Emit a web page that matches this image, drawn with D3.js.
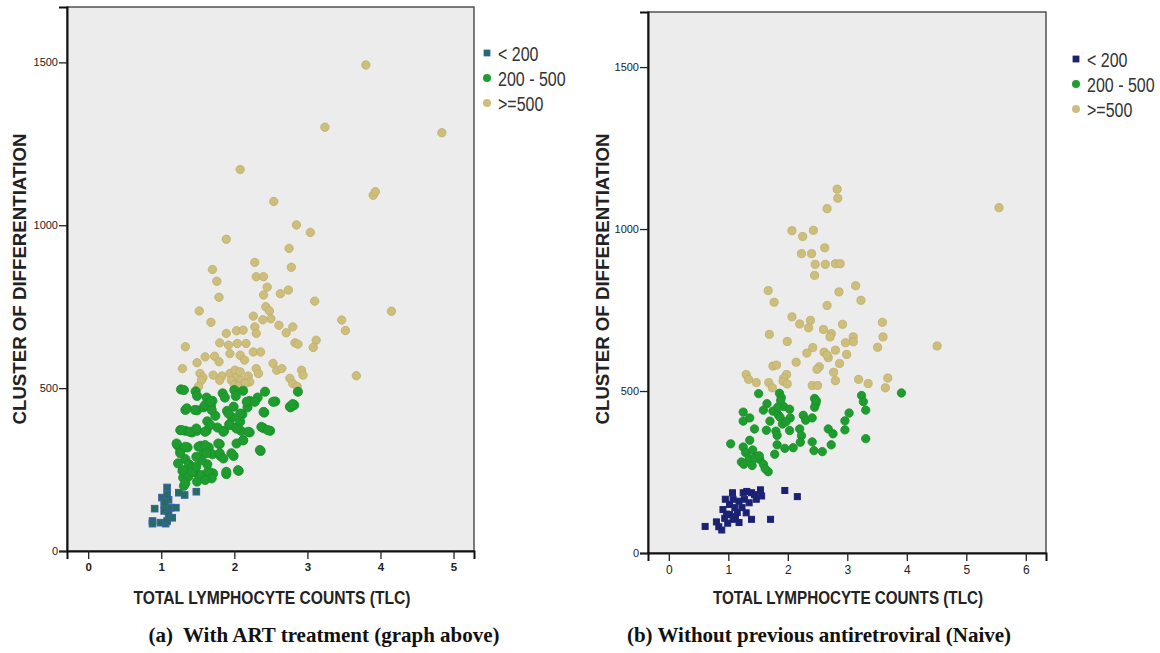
<!DOCTYPE html>
<html>
<head>
<meta charset="utf-8">
<script src="https://cdn.jsdelivr.net/npm/d3@7"></script>
<style>
  body { margin: 0; background: #fff; }
</style>
</head>
<body>
<script>
// CD4 vs TLC, panel (a) with ART, panel (b) naive
// each point is [tlc, cd4]
let artLow = [[1.08,195],[1.01,164],[1.06,159],[1.10,157],[1.24,179],[1.32,172],[1.48,182],[0.91,130],[1.13,133],[1.20,133],
  [1.04,123],[1.10,113],[0.88,92],[0.88,84],[0.99,87],[1.06,84],[1.08,92],[1.15,102],[1.04,143],[1.08,174],[1.05,150]];
let artMid = [[1.27,496],[1.31,494],[1.47,490],[1.49,476],[1.62,471],[1.70,461],[1.84,484],[1.87,471],[2.00,494],[2.02,476],
  [2.12,492],[2.21,461],[2.32,471],[2.42,489],[2.56,459],[2.87,489],[2.77,441],[2.82,448],[1.33,433],[1.49,432],
  [1.58,441],[1.68,446],[1.74,415],[1.90,430],[1.97,410],[2.11,420],[2.18,441],[2.41,425],[1.26,371],[1.33,369],
  [1.42,364],[1.49,369],[1.63,398],[1.62,369],[1.77,379],[1.86,369],[1.93,389],[2.02,379],[2.09,369],[2.12,340],
  [2.21,364],[2.40,377],[2.49,369],[2.36,307],[1.22,325],[1.26,307],[1.36,318],[1.54,323],[1.58,302],[1.65,318],
  [1.70,297],[1.80,328],[1.81,292],[1.99,292],[1.33,282],[1.38,266],[1.42,256],[1.47,241],[1.63,266],[1.67,241],
  [1.29,246],[1.30,225],[1.53,230],[1.71,238],[1.89,236],[2.06,246],[1.31,200],[1.49,213],
  [1.35,438],[1.46,433],[1.60,448],[1.69,433],[1.67,458],[1.92,422],[1.99,443],[2.08,422],[2.17,458],[2.28,458],
  [2.40,427],[2.53,458],[2.76,443],[2.80,451],[1.28,371],[1.39,366],[1.48,376],[1.60,366],[1.67,387],[1.85,366],
  [1.94,387],[2.03,376],[2.08,397],[2.19,366],[2.37,381],[2.46,371],[1.21,330],[1.33,320],[1.26,300],[1.51,320],
  [1.60,325],[1.62,300],[1.55,279],[1.48,289],[1.78,330],[1.80,300],[1.85,284],[1.96,300],[2.03,330],[2.12,340],
  [2.35,310],[1.23,269],[1.30,248],[1.37,228],[1.33,208],[1.42,243],[1.48,259],[1.55,233],[1.64,243],[1.69,223],
  [1.60,218],[1.89,243],[2.05,248]];
let artHigh = [[3.80,1492],[3.24,1301],[4.84,1284],[2.08,1171],[3.90,1092],[3.93,1103],[2.54,1073],[2.85,1001],[3.04,978],[1.89,957],
  [2.75,929],[2.28,886],[2.78,871],[1.70,864],[2.30,842],[2.40,842],[1.76,828],[2.45,810],[2.74,801],[2.63,790],
  [2.40,786],[1.79,779],[3.10,767],[1.52,737],[4.15,736],[2.43,750],[2.48,737],[2.26,721],[2.39,710],[2.50,713],
  [1.68,702],[3.47,709],[3.52,677],[3.67,538],[2.28,688],[2.30,668],[2.61,693],[2.71,670],[2.80,688],[1.89,668],
  [2.03,676],[2.12,678],[1.33,627],[1.80,639],[1.92,632],[2.04,637],[2.16,637],[1.94,606],[2.08,601],[2.14,586],
  [2.26,611],[2.36,611],[2.83,639],[2.87,635],[3.12,647],[3.08,625],[1.49,578],[1.60,596],[1.73,598],[1.79,581],
  [1.29,560],[1.53,545],[1.57,533],[1.55,524],[1.71,540],[1.83,537],[1.80,524],[1.94,545],[2.01,555],[2.03,533],
  [1.96,524],[2.08,550],[2.09,524],[2.19,537],[2.21,519],[2.30,560],[2.33,545],[2.53,576],[2.58,555],[2.65,560],
  [2.76,530],[2.80,514],[2.92,555],[2.94,540],[1.51,505],[2.15,514],[2.00,510],[2.05,505],[2.86,505]];

let naiveLow = [[0.61,82],[0.80,96],[0.84,81],[0.89,71],[0.94,107],[0.99,92],[0.91,134],[0.95,166],[1.07,186],[1.08,166],
  [1.11,140],[1.02,119],[1.08,104],[1.18,94],[1.25,186],[1.27,166],[1.23,140],[1.30,124],[1.39,186],[1.35,155],
  [1.47,166],[1.54,195],[1.56,176],[1.39,104],[1.71,104],[1.95,193],[2.16,174],[1.15,125],[1.02,150],[1.31,190],
  [1.44,180],[1.18,160],[0.97,120],[1.12,112]];
let naiveMid = [[3.91,494],[1.51,492],[1.86,493],[1.89,480],[2.45,477],[2.47,461],[2.45,450],[3.24,486],[3.27,467],[3.31,441],
  [1.65,461],[1.59,441],[1.25,435],[1.25,407],[1.36,417],[1.75,438],[1.93,452],[2.03,444],[1.84,426],[1.87,419],
  [1.70,407],[2.04,417],[2.26,425],[2.30,410],[2.41,417],[1.44,383],[1.64,379],[1.80,376],[1.82,363],[1.91,398],
  [2.03,378],[2.20,383],[2.23,362],[2.21,342],[2.68,383],[2.76,368],[2.96,408],[3.03,432],[2.96,380],[2.73,334],
  [3.31,353],[1.04,337],[1.36,348],[1.82,334],[1.25,327],[1.29,310],[1.95,323],[2.09,325],[2.41,343],[2.44,316],
  [2.58,313],[1.78,305],[1.41,318],[1.47,297],[1.35,292],[1.53,289],[1.59,274],[1.22,281],[1.26,274],[1.44,292],
  [1.67,251],[1.88,470],[1.83,450],[1.97,405],[2.48,470],[1.52,300],[1.40,270],[1.62,260]];
let naiveHigh = [[2.83,1123],[2.84,1095],[2.66,1063],[5.55,1066],[2.07,995],[2.43,996],[2.25,977],[2.62,942],[2.23,924],[2.40,924],
  [2.46,891],[2.63,891],[2.80,893],[2.88,893],[2.45,857],[1.67,810],[3.14,825],[2.86,806],[1.77,774],[3.23,780],
  [2.66,764],[2.07,729],[2.20,707],[2.38,718],[3.59,712],[2.35,695],[2.60,690],[2.73,677],[2.71,667],[2.92,706],
  [3.10,667],[3.10,652],[3.60,667],[1.69,675],[1.99,653],[2.42,634],[2.80,626],[2.97,649],[2.99,613],[3.51,635],
  [4.51,639],[2.32,617],[2.61,620],[2.68,603],[2.66,611],[2.14,589],[2.87,585],[1.75,577],[1.81,580],[2.53,575],
  [2.49,567],[1.98,551],[1.30,551],[1.34,536],[2.77,558],[2.80,532],[1.93,539],[1.47,526],[1.68,526],[1.74,510],
  [1.92,530],[1.99,522],[2.41,517],[2.50,517],[3.19,536],[3.35,523],[3.68,540],[3.64,510]];

let groups = ["< 200", "200 - 500", ">=500"];
let yTicks = [0, 500, 1000, 1500];
let xTitle = "TOTAL LYMPHOCYTE COUNTS (TLC)";
let yTitle = "CLUSTER OF DIFFERENTIATION";

let width = 1160;
let height = 653;
let sans = "'Liberation Sans', Arial, sans-serif";
let serif = "'Liberation Serif', 'Times New Roman', serif";

let svg = d3.select("body").append("svg").attr("width", width).attr("height", height);

let panels = [
  {left: 67, right: 474, top: 7, bottom: 551, xdom: [-0.29, 5.28], xticks: [0,1,2,3,4,5], boldX: true,
   data: [artLow, artMid, artHigh], lowFill: "#236e5e", lowStroke: "#3b5fa8", sq: 6.6, rMid: 4.6, rHigh: 4.2,
   legX: 487, legY: 53, ytX: 19, xtX: 272, xtW: 277,
   caption: "(a)  With ART treatment (graph above)", capX: 324},
  {left: 648, right: 1046, top: 12, bottom: 553, xdom: [-0.35, 6.34], xticks: [0,1,2,3,4,5,6], boldX: false,
   data: [naiveLow, naiveMid, naiveHigh], lowFill: "#1b2274", lowStroke: "#1b2274", sq: 6, rMid: 4.2, rHigh: 4.1,
   legX: 1076, legY: 59, ytX: 602, xtX: 848, xtW: 270,
   caption: "(b) Without previous antiretroviral (Naive)", capX: 819}
];

panels.forEach((p) => {
  let x = d3.scaleLinear().domain(p.xdom).range([p.left, p.right]);
  let y = d3.scaleLinear().domain([0, 1670]).range([p.bottom, p.top]);

  let g = svg.append("g");

  g.append("rect").attr("x", p.left).attr("y", p.top)
    .attr("width", p.right - p.left).attr("height", p.bottom - p.top)
    .attr("fill", "#ececec").attr("stroke", "#3a3a3a").attr("stroke-width", 1.3);

  // points: tan first, then green, then squares on top
  g.append("g").selectAll("circle").data(p.data[2]).enter().append("circle")
    .attr("cx", (d) => {return x(d[0]);})
    .attr("cy", (d) => {return y(d[1]);})
    .attr("r", p.rHigh)
    .attr("fill", "#cdbe7c").attr("stroke", "#bdae69").attr("stroke-width", 0.8);

  g.append("g").selectAll("circle").data(p.data[1]).enter().append("circle")
    .attr("cx", (d) => {return x(d[0]);})
    .attr("cy", (d) => {return y(d[1]);})
    .attr("r", p.rMid)
    .attr("fill", "#1f9c2e").attr("stroke", "#17902a").attr("stroke-width", 0.8);

  g.append("g").selectAll("rect").data(p.data[0]).enter().append("rect")
    .attr("x", (d) => {return x(d[0]) - p.sq / 2;})
    .attr("y", (d) => {return y(d[1]) - p.sq / 2;})
    .attr("width", p.sq).attr("height", p.sq)
    .attr("fill", p.lowFill).attr("stroke", p.lowStroke).attr("stroke-width", 1);

  // axes
  let yAxis = g.append("g").attr("transform", "translate(" + p.left + ",0)")
    .call(d3.axisLeft(y).tickValues(yTicks).tickSize(8).tickPadding(1).tickFormat(d3.format("d")));
  yAxis.select(".domain").attr("stroke", "#111").attr("stroke-width", 2);
  yAxis.selectAll(".tick line").attr("stroke", "#222").attr("stroke-width", 1.3);
  yAxis.selectAll("text").style("font-size", "11px").style("font-family", sans).attr("fill", "#222");

  let xAxis = g.append("g").attr("transform", "translate(0," + p.bottom + ")")
    .call(d3.axisBottom(x).tickValues(p.xticks).tickSize(8).tickPadding(4).tickFormat(d3.format("d")));
  xAxis.select(".domain").attr("stroke", "#111").attr("stroke-width", 2);
  xAxis.selectAll(".tick line").attr("stroke", "#222").attr("stroke-width", 1.3);
  xAxis.selectAll("text").style("font-size", p.boldX ? "11.5px" : "12px").style("font-family", sans)
    .style("font-weight", p.boldX ? "bold" : "normal").attr("fill", "#222");

  // titles (condensed bold like the original)
  g.append("text").attr("x", p.xtX).attr("y", 604)
    .attr("text-anchor", "middle").style("font-family", sans).style("font-size", "18px").style("font-weight", "bold")
    .attr("fill", "#222").attr("textLength", p.xtW).attr("lengthAdjust", "spacingAndGlyphs")
    .text(xTitle);

  g.append("text").attr("transform", "translate(" + (p.ytX + 6.5) + ",279) rotate(-90)")
    .attr("text-anchor", "middle").style("font-family", sans).style("font-size", "18px").style("font-weight", "bold")
    .attr("fill", "#222").attr("textLength", 291).attr("lengthAdjust", "spacingAndGlyphs")
    .text(yTitle);

  g.append("text").attr("x", p.capX).attr("y", 642)
    .attr("text-anchor", "middle").style("font-family", serif).style("font-size", "21px").style("font-weight", "bold")
    .style("white-space", "pre")
    .attr("fill", "#111")
    .text(p.caption);

  // legend, narrow text done with a horizontal squeeze
  let leg = g.append("g").attr("transform", "translate(" + p.legX + "," + p.legY + ")");
  let rowH = 25;
  leg.append("rect").attr("x", -3).attr("y", -3).attr("width", 6).attr("height", 6)
    .attr("fill", p.lowFill).attr("stroke", p.lowStroke).attr("stroke-width", 0.8);
  leg.append("circle").attr("cx", 0).attr("cy", rowH).attr("r", 4).attr("fill", "#1f9c2e");
  leg.append("circle").attr("cx", 0).attr("cy", rowH * 2).attr("r", 4).attr("fill", "#cdbe7c");
  leg.selectAll("text").data(groups).enter().append("text")
    .attr("transform", (d, i) => {return "translate(11," + (i * rowH + 8) + ") scale(0.8,1)";})
    .style("font-family", sans).style("font-size", "20px").attr("fill", "#333")
    .text((d) => {return d;});
});
</script>
</body>
</html>
